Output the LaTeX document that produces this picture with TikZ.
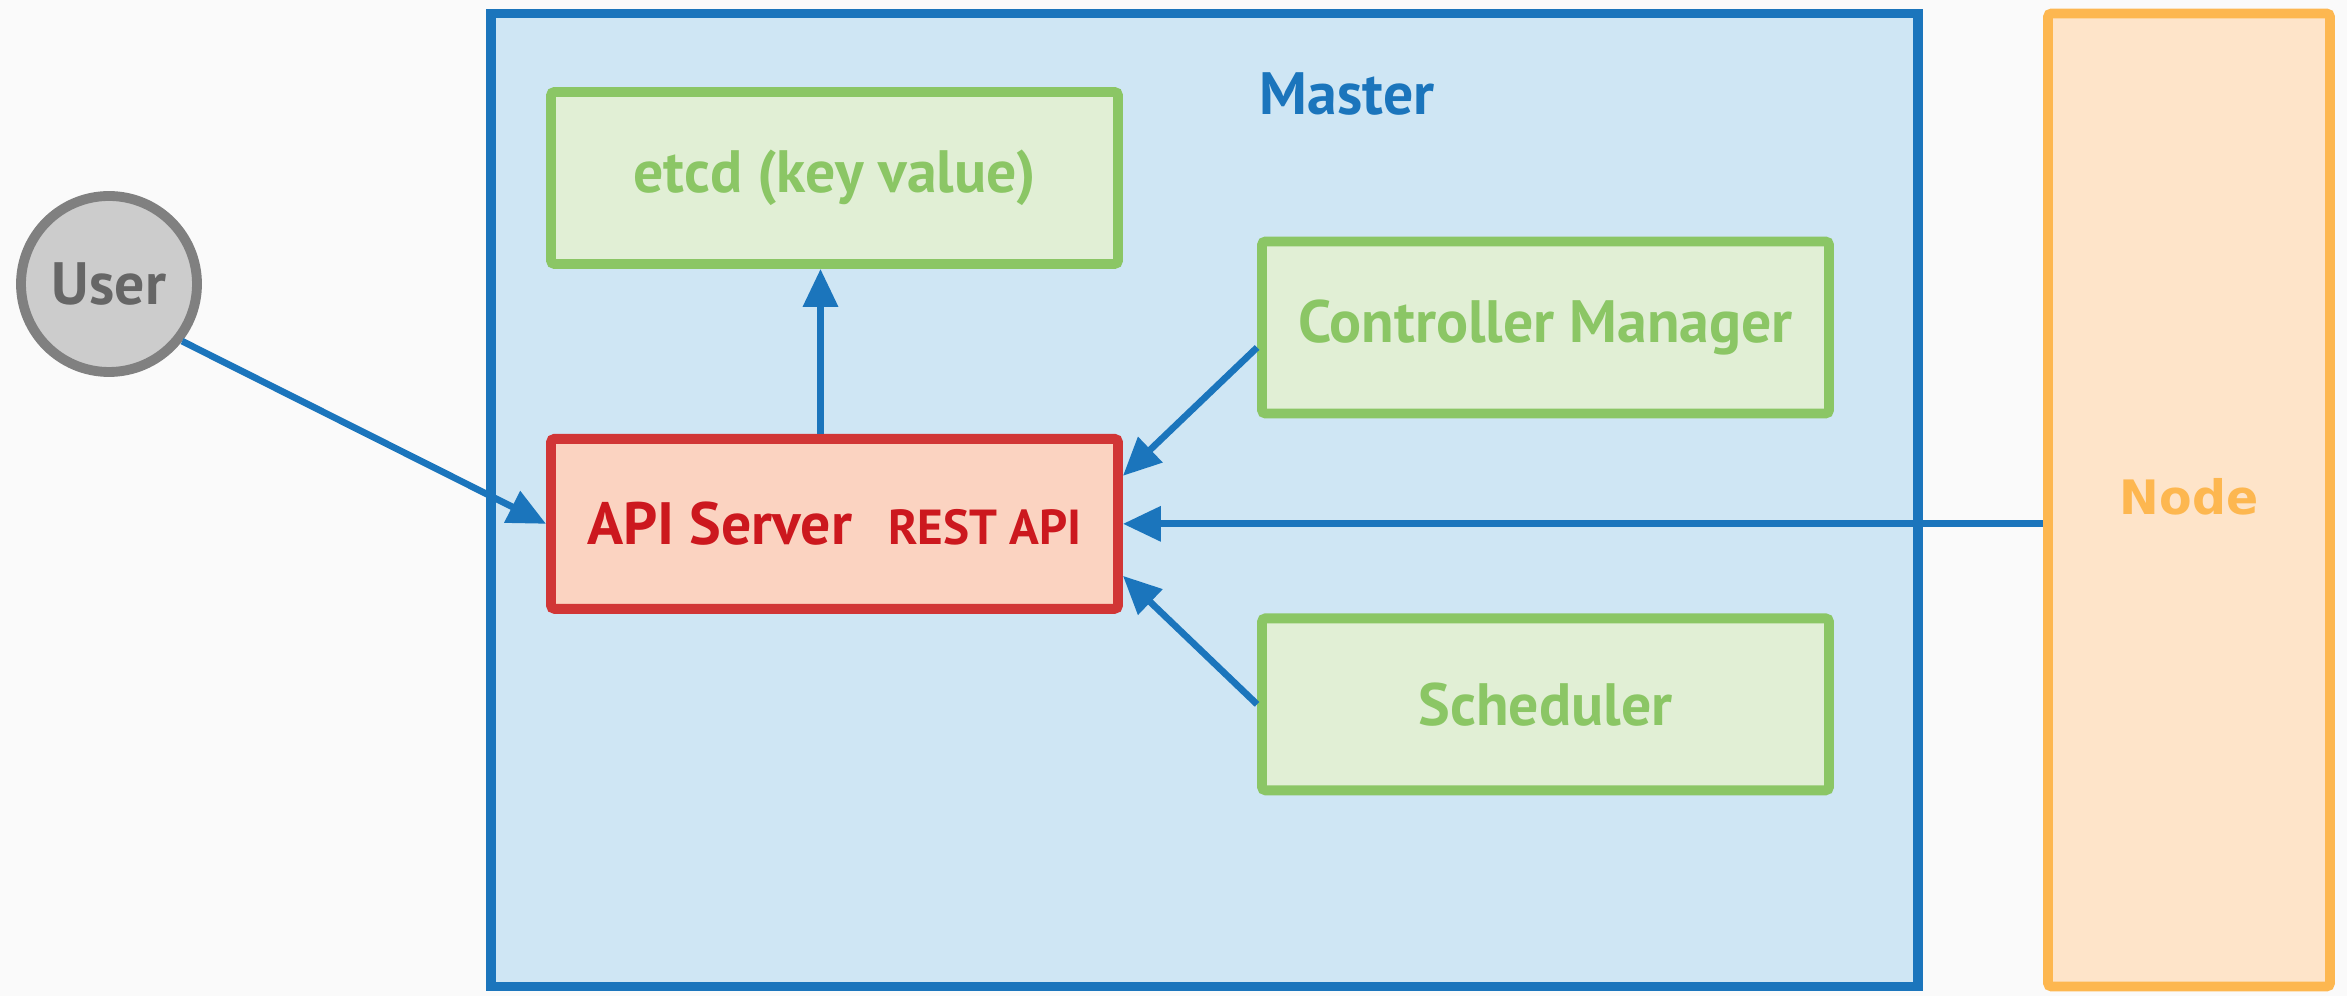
\documentclass[tikz,border=0pt]{standalone}
\usepackage{fontspec}
\setmainfont{PT Sans}
\newfontfamily\widefont{DejaVu Sans}
\usepackage{xcolor}
\usepackage{tikz}
\usetikzlibrary{arrows.meta, positioning, backgrounds}
\definecolor{masterblue}{RGB}{27, 117, 188}
\definecolor{masterfill}{RGB}{207, 230, 244}
\definecolor{partgreen}{RGB}{139, 198, 101}
\definecolor{partfill}{RGB}{225, 239, 213}
\definecolor{apired}{RGB}{209, 54, 54}
\definecolor{apifill}{RGB}{251, 211, 193}
\definecolor{apitext}{RGB}{204, 24, 30}
\definecolor{usergray}{RGB}{128, 128, 128}
\definecolor{userfill}{RGB}{204, 204, 204}
\definecolor{usertext}{RGB}{102, 102, 102}
\definecolor{nodeorange}{RGB}{253, 183, 80}
\definecolor{nodefill}{RGB}{254, 228, 201}
\definecolor{paper}{RGB}{250, 250, 250}

\begin{document}
\begin{tikzpicture}[
    part/.style={draw=partgreen, line width=2.8pt, rounded corners=1pt, fill=partfill,
                 text=partgreen, minimum width=5.67cm, minimum height=1.72cm,
                 font=\bfseries\fontsize{17}{20}\selectfont},
    link/.style={draw=masterblue, line width=1.9pt, -{Triangle[length=3.8mm, width=3.4mm]}}
]
    \fill[paper] (0,0) rectangle (23.47,9.96);
    \useasboundingbox (0,0) rectangle (23.47,9.96);

    % master and node
    \node[draw=masterblue, line width=2.8pt, fill=masterfill, minimum width=14.27cm,
          minimum height=9.73cm] (master) at (12.045,4.96) {};
    \node[text=masterblue, font=\bfseries\fontsize{17}{20}\selectfont] (mastertitle) at (13.47,9.02) {Master};
    \node[draw=nodeorange, line width=2.8pt, rounded corners=1pt, fill=nodefill, text=nodeorange,
          minimum width=2.82cm, minimum height=9.73cm,
          font=\widefont\bfseries\fontsize{13.5}{16}\selectfont] (nodebox) at (21.89,4.96) {\raisebox{0.8mm}{Node}};

    % parts of the master
    \node[part] (etcd) at (8.345,8.18) {etcd (key value)};
    \node[part] (ctrl) at (15.455,6.685) {Controller Manager};
    \node[part, below=1.95cm of ctrl] (sched) {Scheduler};
    \node[draw=apired, line width=2.8pt, rounded corners=1pt, fill=apifill, text=apitext,
          minimum width=5.67cm, minimum height=1.70cm, below=1.65cm of etcd] (api) {
        \bfseries\fontsize{17}{20}\selectfont API Server\hspace{0.6em}\fontsize{14}{17}\selectfont REST API
    };

    % user
    \node[circle, draw=usergray, line width=2.8pt, fill=userfill, text=usertext, minimum size=1.76cm,
          font=\bfseries\fontsize{17}{20}\selectfont] (user) at (1.09,7.12) {User};

    \draw[link] (user.-38) -- (api.west);
    \draw[link] ([xshift=-1.4mm]api.north) -- ([xshift=-1.4mm]etcd.south);
    \draw[link] ([yshift=-2mm]ctrl.west) -- ([yshift=4.8mm]api.east);
    \draw[link] (sched.west) -- ([yshift=-5.2mm]api.east);
    \draw[link] (nodebox.west |- api.east) -- (api.east);
\end{tikzpicture}
\end{document}
